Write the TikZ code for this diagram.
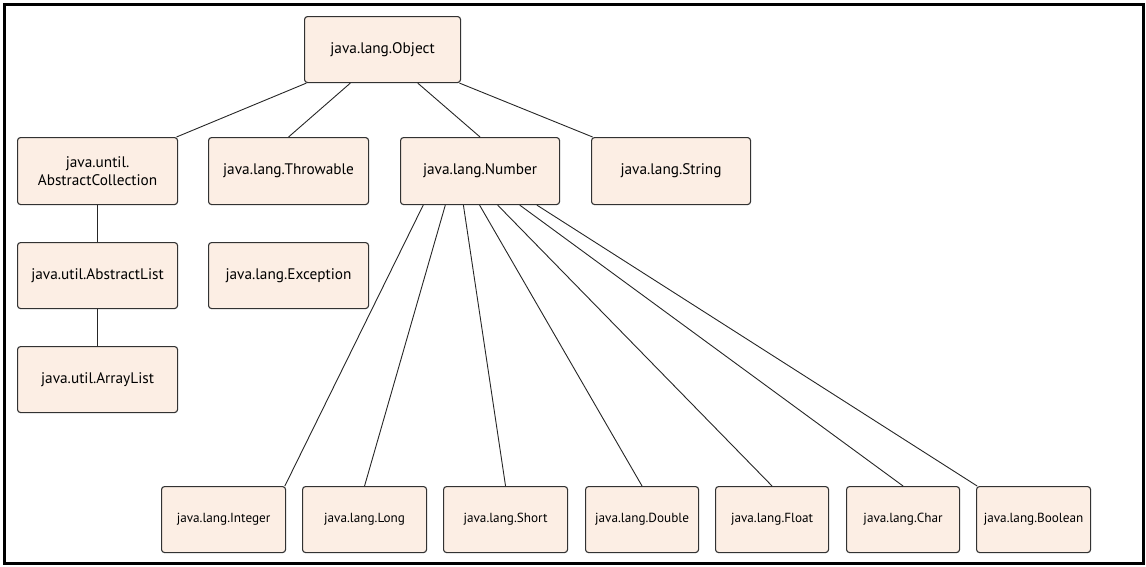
\documentclass[tikz,border=0pt]{standalone}
\usepackage{fontspec}
\setmainfont{PT Sans}
\usetikzlibrary{calc}
\definecolor{boxfill}{RGB}{252,238,228}
\definecolor{boxline}{RGB}{50,50,50}
\tikzset{
  box/.style={draw=boxline, fill=boxfill, rounded corners=3pt, line width=1.1pt,
    minimum width=#1, minimum height=66pt, align=center, inner sep=0pt,
    anchor=north west, font=\fontsize{15.3}{18.5}\selectfont},
  smallbox/.style={box=#1, font=\fontsize{13.2}{16}\selectfont},
  link/.style={draw=black!85, line width=0.9pt}
}
\begin{document}
\begin{tikzpicture}[x=1pt,y=-1pt]
\useasboundingbox (0,0) rectangle (1146,566);
\draw[line width=3pt] (4.5,4.5) rectangle (1143.5,563);
\node[box=156pt] (obj) at (304,16) {java.lang.Object};
\node[box=160pt, minimum height=67pt] (acoll) at (17,137) {java.until.\\AbstractCollection};
\node[box=160pt, minimum height=67pt] (thr) at (208,137) {java.lang.Throwable};
\node[box=159pt, minimum height=67pt] (num) at (400,137) {java.lang.Number};
\node[box=159pt, minimum height=67pt] (str) at (591,137) {java.lang.String};
\node[box=160pt] (alist) at (17,242) {java.util.AbstractList};
\node[box=160pt] (exc) at (208,242) {java.lang.Exception};
\node[box=160pt] (alst) at (17,346) {java.util.ArrayList};
\node[smallbox=124pt] (int) at (161,486) {java.lang.Integer};
\node[smallbox=124pt] (long) at (302,486) {java.lang.Long};
\node[smallbox=124pt] (short) at (443,486) {java.lang.Short};
\node[smallbox=113pt] (dbl) at (585,486) {java.lang.Double};
\node[smallbox=113pt] (flt) at (715,486) {java.lang.Float};
\node[smallbox=113pt] (chr) at (846,486) {java.lang.Char};
\node[smallbox=114pt] (bool) at (976,486) {java.lang.Boolean};
% Object links
\draw[link] ($(obj.south west)!0.015!(obj.south east)$) -- ($(acoll.north west)!0.99!(acoll.north east)$);
\draw[link] ($(obj.south west)!0.295!(obj.south east)$) -- (thr.north);
\draw[link] ($(obj.south west)!0.724!(obj.south east)$) -- (num.north);
\draw[link] ($(obj.south west)!0.99!(obj.south east)$) -- ($(str.north west)!0.01!(str.north east)$);
% collection chain
\draw[link] (acoll.south) -- (alist.north);
\draw[link] (alist.south) -- (alst.north);
% Number links
\draw[link] ($(num.south west)!0.145!(num.south east)$) -- ($(int.north west)!0.99!(int.north east)$);
\draw[link] ($(num.south west)!0.283!(num.south east)$) -- (long.north);
\draw[link] ($(num.south west)!0.396!(num.south east)$) -- (short.north);
\draw[link] ($(num.south west)!0.497!(num.south east)$) -- (dbl.north);
\draw[link] ($(num.south west)!0.61!(num.south east)$) -- (flt.north);
\draw[link] ($(num.south west)!0.748!(num.south east)$) -- (chr.north);
\draw[link] ($(num.south west)!0.855!(num.south east)$) -- ($(bool.north west)!0.01!(bool.north east)$);
\end{tikzpicture}
\end{document}
